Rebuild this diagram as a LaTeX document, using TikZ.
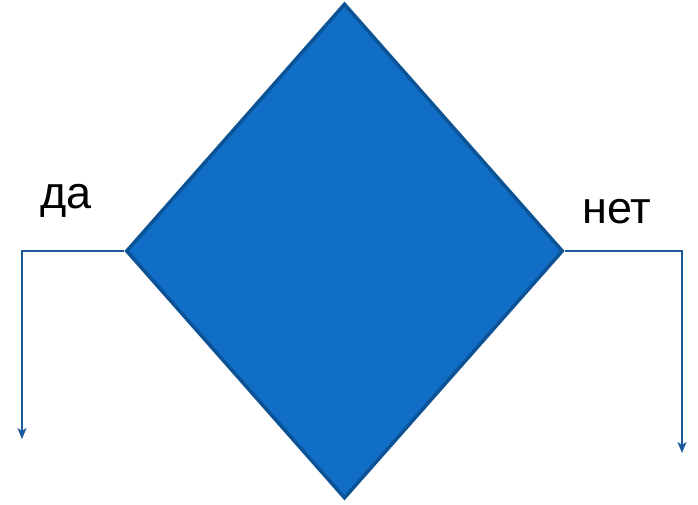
\documentclass[tikz,border=0pt]{standalone}
\usepackage{fontspec}
\setmainfont{Liberation Sans}
\usetikzlibrary{arrows.meta,shapes.geometric}
\definecolor{decFill}{HTML}{106EC6}
\definecolor{decLine}{HTML}{0B5394}
\definecolor{flowC}  {HTML}{1A5A9C}
\tikzset{
  >=Stealth,
  decBox/.style={shape=diamond,draw=decLine,line width=3.5pt,fill=decFill,
                 minimum width=437pt,minimum height=495pt,inner sep=0pt},
  branchflow/.style={-{Stealth[length=11pt,width=9pt,inset=3pt]},line width=1.8pt,flowC},
  branchLbl/.style={font=\fontsize{45}{50}\selectfont,anchor=base,inner sep=0pt},
}
\begin{document}
\begin{tikzpicture}[x=1pt,y=-1pt]
\useasboundingbox (0,0) rectangle (698,504);

% decision block
\node[decBox] (dec) at (344.5,251) {};

% branch ends
\coordinate (yesEnd) at (22,439);
\coordinate (noEnd)  at (682,453);

\draw[branchflow] (dec.west) -| (yesEnd);
\draw[branchflow] (dec.east) -| (noEnd);

\node[branchLbl] (yesLbl) at (66,208) {да};
\node[branchLbl] (noLbl)  at (617,223) {нет};

\end{tikzpicture}
\end{document}
